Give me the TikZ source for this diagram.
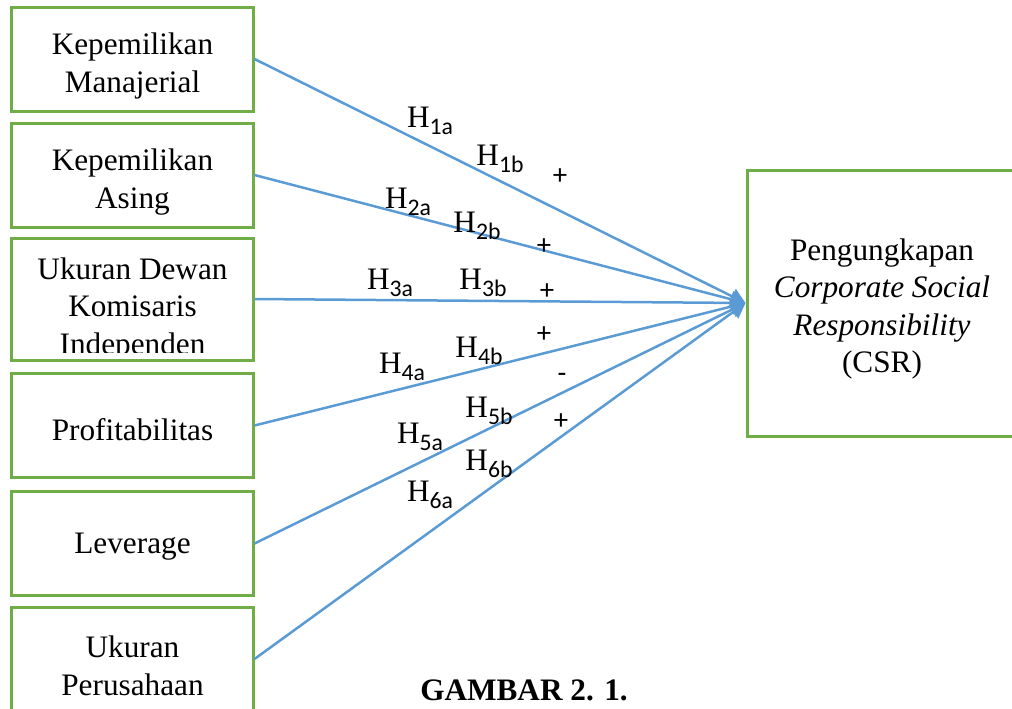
\documentclass[tikz,border=0pt]{standalone}
\usepackage{fontspec}
\setmainfont{Liberation Serif}
\setsansfont{Carlito}
\usetikzlibrary{arrows.meta}
\definecolor{boxgreen}{RGB}{112,173,71}
\definecolor{linkblue}{RGB}{91,155,213}
\newcommand{\hlab}[1]{H\raisebox{-2.8pt}{\fontsize{9.5}{11}\selectfont\sffamily #1}}

\tikzset{
  vartext/.style={align=center, inner sep=0pt, font=\fontsize{12.5}{15}\selectfont},
  varbox/.style={draw=boxgreen, line width=1.2pt,
                 minimum width=96.4pt, minimum height=41.6pt},
  hyparrow/.style={draw=linkblue, line width=1pt, -{Triangle[length=6pt,width=6.5pt]}},
  hyplabel/.style={inner sep=0pt, font=\fontsize{12.5}{14}\selectfont},
  signlabel/.style={inner sep=0pt, font=\fontsize{11.5}{13}\selectfont\sffamily}
}

\begin{document}
\begin{tikzpicture}[x=0.4pt, y=-0.4pt]
  \useasboundingbox (0,0) rectangle (1012,708);
  \clip (0,0) rectangle (1012,708);
  % Independent variables
  \node[varbox] (manajerial) at (132.5,59) {};
  \node[vartext] (manajerialtext) at (132.5,66) {Kepemilikan\\Manajerial};
  \node[varbox] (asing) at (132.5,175) {};
  \node[vartext] (asingtext) at (132.5,182) {Kepemilikan\\Asing};
  \node[varbox, minimum height=48.8pt] (dewan) at (132.5,299) {};
  \begin{scope}
    \clip (12,238) rectangle (253,352);
    \node[vartext] (dewantext) at (132.5,309) {Ukuran Dewan\\Komisaris\\Independen};
  \end{scope}
  \node[varbox] (profit) at (132.5,425.5) {};
  \node[vartext] (profittext) at (132.5,430) {Profitabilitas};
  \node[varbox] (leverage) at (132.5,543.5) {};
  \node[vartext] (leveragetext) at (132.5,547) {Leverage};
  \node[varbox] (ukuran) at (132.5,659) {};
  \node[vartext] (ukurantext) at (132.5,666) {Ukuran\\Perusahaan};
  % Dependent variable
  \node[varbox, minimum width=109.2pt, minimum height=106.4pt] (csr) at (883.5,303) {};
  \node[vartext] (csrtext) at (882,309)
    {Pengungkapan\\\textit{Corporate Social}\\\textit{Responsibility}\\(CSR)};
  % Hypotheses
  \draw[hyparrow] (manajerial.east) -- (csr.west);
  \draw[hyparrow] (asing.east) -- (csr.west);
  \draw[hyparrow] (dewan.east) -- (csr.west);
  \draw[hyparrow] (profit.east) -- (csr.west);
  \draw[hyparrow] (leverage.east) -- (csr.west);
  \draw[hyparrow] (ukuran.east) -- (csr.west);
  % Labels
  \node[hyplabel] (h1a) at (430,121) {\hlab{1a}};
  \node[hyplabel] (h1b) at (500,159) {\hlab{1b}};
  \node[signlabel] (s1) at (560,177) {+};
  \node[hyplabel] (h2a) at (408,202) {\hlab{2a}};
  \node[hyplabel] (h2b) at (477,226) {\hlab{2b}};
  \node[signlabel] (s2) at (544,247) {+};
  \node[hyplabel] (h3a) at (390,283) {\hlab{3a}};
  \node[hyplabel] (h3b) at (483,283) {\hlab{3b}};
  \node[signlabel] (s3) at (547,292) {+};
  \node[hyplabel] (h4a) at (402,367) {\hlab{4a}};
  \node[hyplabel] (h4b) at (479,351) {\hlab{4b}};
  \node[signlabel] (s4) at (544,335) {+};
  \node[hyplabel] (h5a) at (420,437) {\hlab{5a}};
  \node[hyplabel] (h5b) at (489,411) {\hlab{5b}};
  \node[signlabel] (s5) at (562,378) {-};
  \node[hyplabel] (h6a) at (430,495) {\hlab{6a}};
  \node[hyplabel] (h6b) at (489,464) {\hlab{6b}};
  \node[signlabel] (s6) at (561,422) {+};
  % Caption
  \node[anchor=base, inner sep=0pt, font=\fontsize{12.5}{15}\selectfont\bfseries] (caption)
    at (524,700) {GAMBAR 2. 1.};
\end{tikzpicture}
\end{document}
